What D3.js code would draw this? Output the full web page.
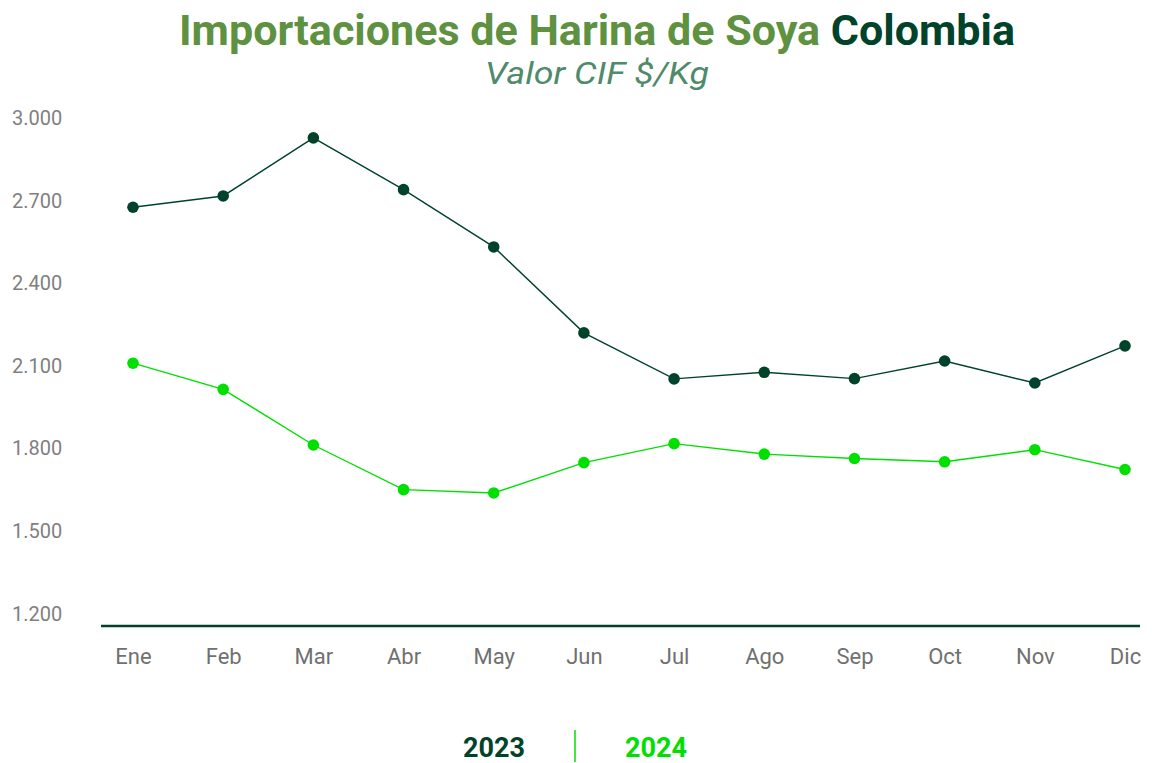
<!DOCTYPE html>
<html><head><meta charset="utf-8">
<script src="https://cdn.jsdelivr.net/npm/d3@7"></script>
<style>body{margin:0;background:#fff}</style>
</head><body>
<svg id="c" width="1152" height="763"></svg>
<script>
const months = ["Ene","Feb","Mar","Abr","May","Jun","Jul","Ago","Sep","Oct","Nov","Dic"];
const v2023 = [2676,2717,2928,2740,2532,2220,2053,2077,2054,2118,2038,2173];
const v2024 = [2110,2015,1813,1651,1639,1749,1818,1780,1764,1752,1796,1724];
const yTicks = [1200,1500,1800,2100,2400,2700,3000];
const seriesNames = ["2023","2024"];
const colors = ["#00432a","#00e000"];

const svg = d3.select("#c");
const x = d3.scalePoint().domain(months).range([133,1125]);
const y = d3.scaleLinear().domain([1156,3000]).range([626,118]);
const fmt = v => d3.format(",")(v).replace(/,/g,".");

// Title
const t = svg.append("text").attr("x",597).attr("y",45).attr("text-anchor","middle")
  .style("font-family","Roboto, sans-serif").style("font-weight","700").style("font-size","42px")
  .attr("textLength",836).attr("lengthAdjust","spacingAndGlyphs");
t.append("tspan").attr("fill","#5e9140").text("Importaciones de Harina de Soya ");
t.append("tspan").attr("fill","#00432a").text("Colombia");
svg.append("text").attr("x",597).attr("y",84).attr("text-anchor","middle")
  .style("font-family","Roboto, sans-serif").style("font-style","italic").style("font-weight","400")
  .style("font-size","31px").attr("fill","#4f8a6b").attr("textLength",224).attr("lengthAdjust","spacingAndGlyphs")
  .text("Valor CIF $/Kg");

// Y axis labels
const ya = svg.append("g").attr("transform","translate(12,0)")
  .call(d3.axisRight(y).tickValues(yTicks).tickFormat(fmt).tickSize(0).tickPadding(0));
ya.select(".domain").remove();
ya.selectAll("text").style("font-family","Roboto, sans-serif").style("font-size","20px").attr("fill","#7f7f7f");

// X axis
const xa = svg.append("g").attr("transform","translate(0,626)")
  .call(d3.axisBottom(x).tickSize(0).tickPadding(22));
xa.select(".domain").remove();
xa.selectAll("text").style("font-family","Roboto, sans-serif").style("font-size","22px").attr("fill","#707070");
svg.append("line").attr("x1",101).attr("x2",1140).attr("y1",626).attr("y2",626)
  .attr("stroke","#00432a").attr("stroke-width",2.5);

// Series
const line = d3.line().x((d,i)=>x(months[i])).y(d=>y(d));
[v2023,v2024].forEach((vals,k)=>{
  svg.append("path").datum(vals).attr("d",line).attr("fill","none")
    .attr("stroke",colors[k]).attr("stroke-width",1.4);
  svg.append("g").selectAll("circle").data(vals).join("circle")
    .attr("cx",(d,i)=>x(months[i])).attr("cy",d=>y(d)).attr("r",5.8).attr("fill",colors[k]);
});

// Legend
const lg = svg.append("g");
lg.append("text").attr("x",494).attr("y",757).attr("text-anchor","middle")
  .style("font-family","Roboto, sans-serif").style("font-weight","700").style("font-size","27px")
  .attr("fill",colors[0]).text(seriesNames[0]);
lg.append("line").attr("x1",575).attr("x2",575).attr("y1",730).attr("y2",762)
  .attr("stroke",colors[1]).attr("stroke-width",1.5);
lg.append("text").attr("x",656).attr("y",757).attr("text-anchor","middle")
  .style("font-family","Roboto, sans-serif").style("font-weight","700").style("font-size","27px")
  .attr("fill",colors[1]).text(seriesNames[1]);
</script>
</body></html>
